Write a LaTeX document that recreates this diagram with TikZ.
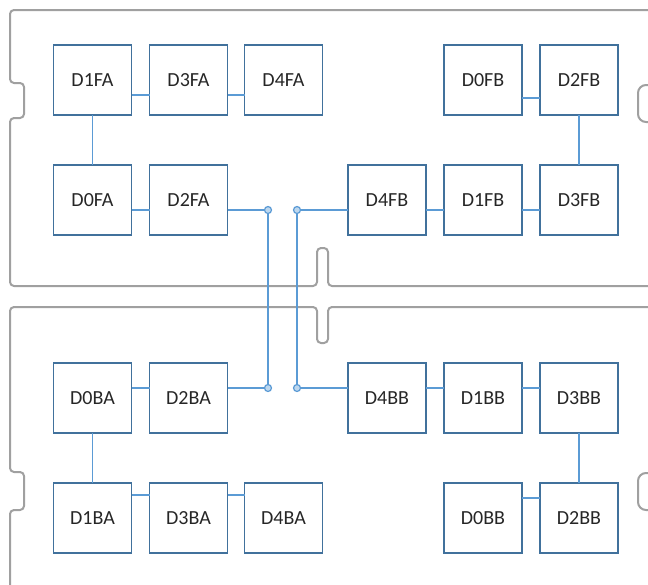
\documentclass[tikz,border=0pt]{standalone}
\usepackage{fontspec}
\setmainfont{Carlito}
\usetikzlibrary{positioning}
\definecolor{boxblue}{HTML}{41719C}
\definecolor{wireblue}{HTML}{5B9BD5}
\definecolor{boardgray}{HTML}{A0A0A0}
\tikzset{
  chip/.style={draw=boxblue, line width=0.9pt, minimum width=39pt, minimum height=35pt, inner sep=0pt, outer sep=0pt, text=black!85},
  wire/.style={draw=wireblue, line width=0.7pt},
  board/.style={draw=boardgray, line width=1pt, rounded corners=2pt},
  notch/.style={board, rounded corners=4pt},
  joint/.style={circle, draw=wireblue, fill=wireblue!40, line width=0.6pt, inner sep=0pt, minimum size=3.5pt},
}
\begin{document}
\begin{tikzpicture}[x=0.5pt, y=-0.5pt]
	  \useasboundingbox (0,0) rectangle (648,584);
	  % boards
	  \draw[board] (660,10) -- (10,10) -- (10,83) -- (24,83) -- (24,118) -- (10,118) -- (10,286) -- (317,286) -- (317,248) -- (328,248) -- (328,286) -- (660,286);
	  \draw[board] (660,307) -- (328,307) -- (328,343) -- (317,343) -- (317,307) -- (10,307) -- (10,472) -- (24,472) -- (24,510) -- (10,510) -- (10,600);
	  \draw[notch] (660,85) -- (638,85) -- (638,122) -- (660,122);
	  \draw[notch] (660,473) -- (638,473) -- (638,510) -- (660,510);
	  % front side
	  \node[chip] (D1FA) at (92.5,80) {D1FA};
	  \node[chip] (D3FA) [right=9pt of D1FA] {D3FA};
	  \node[chip] (D4FA) [right=8.5pt of D3FA] {D4FA};
	  \node[chip] (D0FA) [below=25pt of D1FA] {D0FA};
	  \node[chip] (D2FA) [right=9pt of D0FA] {D2FA};
	  \node[chip] (D3FB) at (579,200) {D3FB};
	  \node[chip] (D1FB) [left=9pt of D3FB] {D1FB};
	  \node[chip] (D4FB) [left=9pt of D1FB] {D4FB};
	  \node[chip] (D2FB) [above=25pt of D3FB] {D2FB};
	  \node[chip] (D0FB) [left=9pt of D2FB] {D0FB};
	  % back side
	  \node[chip] (D0BA) at (92.5,398) {D0BA};
	  \node[chip] (D2BA) [right=9pt of D0BA] {D2BA};
	  \node[chip] (D1BA) [below=25pt of D0BA] {D1BA};
	  \node[chip] (D3BA) [right=9pt of D1BA] {D3BA};
	  \node[chip] (D4BA) [right=8.5pt of D3BA] {D4BA};
	  \node[chip] (D3BB) at (579,398) {D3BB};
	  \node[chip] (D1BB) [left=9pt of D3BB] {D1BB};
	  \node[chip] (D4BB) [left=9pt of D1BB] {D4BB};
	  \node[chip] (D2BB) [below=25pt of D3BB] {D2BB};
	  \node[chip] (D0BB) [left=9pt of D2BB] {D0BB};
	  % joints
	  \node[joint] (jFA) at (268,210) {};
	  \node[joint] (jFB) at (297,210) {};
	  \node[joint] (jBA) at (268,388) {};
	  \node[joint] (jBB) at (297,388) {};
	  % links
	  \draw[wire] ([yshift=-7.5pt]D1FA.east) -- ([yshift=-7.5pt]D3FA.west);
	  \draw[wire] ([yshift=-7.5pt]D3FA.east) -- ([yshift=-7.5pt]D4FA.west);
	  \draw[wire] (D1FA) -- (D0FA);
	  \draw[wire] ([yshift=-5pt]D0FA.east) -- ([yshift=-5pt]D2FA.west);
	  \draw[wire] ([yshift=-9pt]D0FB.east) -- ([yshift=-9pt]D2FB.west);
	  \draw[wire] (D2FB) -- (D3FB);
	  \draw[wire] ([yshift=-5pt]D4FB.east) -- ([yshift=-5pt]D1FB.west);
	  \draw[wire] ([yshift=-5pt]D1FB.east) -- ([yshift=-5pt]D3FB.west);
	  \draw[wire] ([yshift=5pt]D0BA.east) -- ([yshift=5pt]D2BA.west);
	  \draw[wire] (D0BA) -- (D1BA);
	  \draw[wire] ([yshift=11.5pt]D1BA.east) -- ([yshift=11.5pt]D3BA.west);
	  \draw[wire] ([yshift=11.5pt]D3BA.east) -- ([yshift=11.5pt]D4BA.west);
	  \draw[wire] ([yshift=5pt]D4BB.east) -- ([yshift=5pt]D1BB.west);
	  \draw[wire] ([yshift=5pt]D1BB.east) -- ([yshift=5pt]D3BB.west);
	  \draw[wire] (D3BB) -- (D2BB);
	  \draw[wire] ([yshift=10pt]D0BB.east) -- ([yshift=10pt]D2BB.west);
	  % bus between the sides
	  \draw[wire] (jFA -| D2FA.east) -- (jFA) -- (jBA) -- (jBA -| D2BA.east);
	  \draw[wire] (jFB -| D4FB.west) -- (jFB) -- (jBB) -- (jBB -| D4BB.west);
	\end{tikzpicture}
\end{document}
